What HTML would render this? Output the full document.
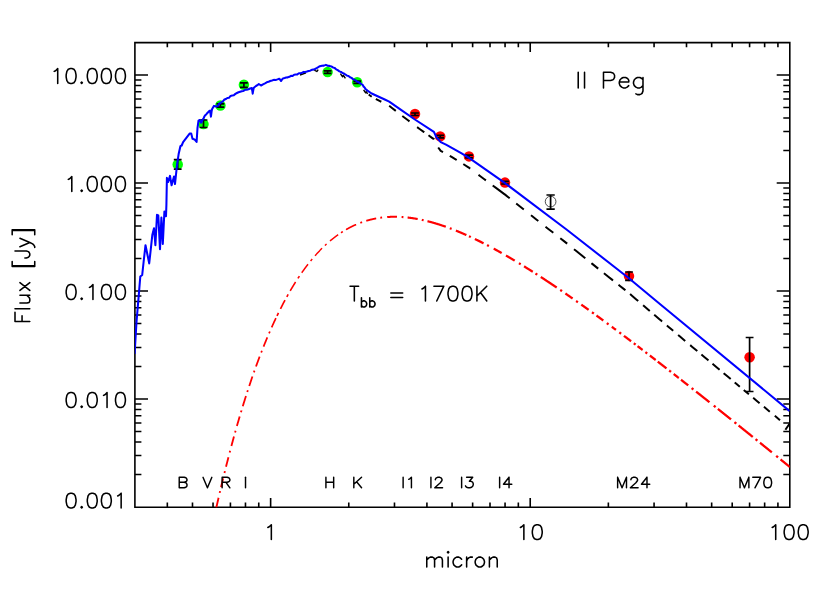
<!DOCTYPE html>
<html><head><meta charset="utf-8"><title>II Peg SED</title>
<style>html,body{margin:0;padding:0;background:#fff;font-family:"Liberation Sans",sans-serif}svg{display:block}</style>
</head><body>
<svg width="830" height="593" viewBox="0 0 830 593">
<rect width="830" height="593" fill="#fff"/>
<clipPath id="c"><rect x="134.90" y="42.60" width="654.90" height="464.60"/></clipPath>
<path d="M134.90 42.60 H789.80 V507.20 H134.90 Z M167.33 507.20 v-4.60 M167.33 42.60 v4.60 M192.49 507.20 v-4.60 M192.49 42.60 v4.60 M213.04 507.20 v-4.60 M213.04 42.60 v4.60 M230.42 507.20 v-4.60 M230.42 42.60 v4.60 M245.47 507.20 v-4.60 M245.47 42.60 v4.60 M258.75 507.20 v-4.60 M258.75 42.60 v4.60 M270.63 507.20 v-9.30 M270.63 42.60 v9.30 M348.77 507.20 v-4.60 M348.77 42.60 v4.60 M394.48 507.20 v-4.60 M394.48 42.60 v4.60 M426.92 507.20 v-4.60 M426.92 42.60 v4.60 M452.07 507.20 v-4.60 M452.07 42.60 v4.60 M472.63 507.20 v-4.60 M472.63 42.60 v4.60 M490.01 507.20 v-4.60 M490.01 42.60 v4.60 M505.06 507.20 v-4.60 M505.06 42.60 v4.60 M518.34 507.20 v-4.60 M518.34 42.60 v4.60 M530.22 507.20 v-9.30 M530.22 42.60 v9.30 M608.36 507.20 v-4.60 M608.36 42.60 v4.60 M654.07 507.20 v-4.60 M654.07 42.60 v4.60 M686.50 507.20 v-4.60 M686.50 42.60 v4.60 M711.66 507.20 v-4.60 M711.66 42.60 v4.60 M732.21 507.20 v-4.60 M732.21 42.60 v4.60 M749.59 507.20 v-4.60 M749.59 42.60 v4.60 M764.64 507.20 v-4.60 M764.64 42.60 v4.60 M777.92 507.20 v-4.60 M777.92 42.60 v4.60 M134.90 474.49 h6.50 M789.80 474.49 h-6.50 M134.90 455.47 h6.50 M789.80 455.47 h-6.50 M134.90 441.98 h6.50 M789.80 441.98 h-6.50 M134.90 431.51 h6.50 M789.80 431.51 h-6.50 M134.90 422.96 h6.50 M789.80 422.96 h-6.50 M134.90 415.73 h6.50 M789.80 415.73 h-6.50 M134.90 409.47 h6.50 M789.80 409.47 h-6.50 M134.90 403.94 h6.50 M789.80 403.94 h-6.50 M134.90 399.00 h13.10 M789.80 399.00 h-13.10 M134.90 366.49 h6.50 M789.80 366.49 h-6.50 M134.90 347.47 h6.50 M789.80 347.47 h-6.50 M134.90 333.98 h6.50 M789.80 333.98 h-6.50 M134.90 323.51 h6.50 M789.80 323.51 h-6.50 M134.90 314.96 h6.50 M789.80 314.96 h-6.50 M134.90 307.73 h6.50 M789.80 307.73 h-6.50 M134.90 301.47 h6.50 M789.80 301.47 h-6.50 M134.90 295.94 h6.50 M789.80 295.94 h-6.50 M134.90 291.00 h13.10 M789.80 291.00 h-13.10 M134.90 258.49 h6.50 M789.80 258.49 h-6.50 M134.90 239.47 h6.50 M789.80 239.47 h-6.50 M134.90 225.98 h6.50 M789.80 225.98 h-6.50 M134.90 215.51 h6.50 M789.80 215.51 h-6.50 M134.90 206.96 h6.50 M789.80 206.96 h-6.50 M134.90 199.73 h6.50 M789.80 199.73 h-6.50 M134.90 193.47 h6.50 M789.80 193.47 h-6.50 M134.90 187.94 h6.50 M789.80 187.94 h-6.50 M134.90 183.00 h13.10 M789.80 183.00 h-13.10 M134.90 150.49 h6.50 M789.80 150.49 h-6.50 M134.90 131.47 h6.50 M789.80 131.47 h-6.50 M134.90 117.98 h6.50 M789.80 117.98 h-6.50 M134.90 107.51 h6.50 M789.80 107.51 h-6.50 M134.90 98.96 h6.50 M789.80 98.96 h-6.50 M134.90 91.73 h6.50 M789.80 91.73 h-6.50 M134.90 85.47 h6.50 M789.80 85.47 h-6.50 M134.90 79.94 h6.50 M789.80 79.94 h-6.50 M134.90 75.00 h13.10 M789.80 75.00 h-13.10" fill="none" stroke="#000" stroke-width="1.60" stroke-linecap="butt" stroke-linejoin="miter"/>
<circle cx="177.70" cy="164.40" r="5.25" fill="#00ff00"/>
<circle cx="203.50" cy="124.10" r="5.25" fill="#00ff00"/>
<circle cx="220.40" cy="105.50" r="5.25" fill="#00ff00"/>
<circle cx="243.90" cy="84.80" r="5.25" fill="#00ff00"/>
<circle cx="327.60" cy="72.10" r="5.25" fill="#00ff00"/>
<circle cx="357.20" cy="82.30" r="5.25" fill="#00ff00"/>
<circle cx="415.00" cy="114.00" r="5.25" fill="#ff0000"/>
<circle cx="440.20" cy="136.40" r="5.25" fill="#ff0000"/>
<circle cx="469.00" cy="156.40" r="5.25" fill="#ff0000"/>
<circle cx="505.00" cy="182.60" r="5.25" fill="#ff0000"/>
<circle cx="629.00" cy="276.10" r="5.25" fill="#ff0000"/>
<circle cx="749.60" cy="357.20" r="5.25" fill="#ff0000"/>
<circle cx="550.60" cy="201.60" r="5.35" fill="none" stroke="#222" stroke-width="0.8"/>
<path d="M177.70 159.70 V169.10 M173.80 159.70 h7.80 M173.80 169.10 h7.80" fill="none" stroke="#000" stroke-width="1.70"/>
<path d="M203.50 120.00 V127.50 M199.60 120.00 h7.80 M199.60 127.50 h7.80" fill="none" stroke="#000" stroke-width="1.70"/>
<path d="M220.40 103.90 V107.20 M216.50 103.90 h7.80 M216.50 107.20 h7.80" fill="none" stroke="#000" stroke-width="1.70"/>
<path d="M243.90 82.90 V87.30 M240.00 82.90 h7.80 M240.00 87.30 h7.80" fill="none" stroke="#000" stroke-width="1.70"/>
<path d="M327.60 70.90 V73.40 M323.70 70.90 h7.80 M323.70 73.40 h7.80" fill="none" stroke="#000" stroke-width="1.70"/>
<path d="M357.20 81.20 V83.45 M353.30 81.20 h7.80 M353.30 83.45 h7.80" fill="none" stroke="#000" stroke-width="1.70"/>
<path d="M415.00 113.00 V115.50 M411.10 113.00 h7.80 M411.10 115.50 h7.80" fill="none" stroke="#000" stroke-width="1.70"/>
<path d="M440.20 135.40 V137.90 M436.30 135.40 h7.80 M436.30 137.90 h7.80" fill="none" stroke="#000" stroke-width="1.70"/>
<path d="M469.00 155.20 V157.80 M465.10 155.20 h7.80 M465.10 157.80 h7.80" fill="none" stroke="#000" stroke-width="1.70"/>
<path d="M505.00 181.30 V184.00 M501.10 181.30 h7.80 M501.10 184.00 h7.80" fill="none" stroke="#000" stroke-width="1.70"/>
<path d="M629.00 272.00 V280.30 M625.10 272.00 h7.80 M625.10 280.30 h7.80" fill="none" stroke="#000" stroke-width="1.70"/>
<path d="M749.60 337.50 V391.50 M745.70 337.50 h7.80 M745.70 391.50 h7.80" fill="none" stroke="#000" stroke-width="1.70"/>
<path d="M550.60 195.00 V209.20 M546.45 195.00 h8.30 M546.45 209.20 h8.30" fill="none" stroke="#000" stroke-width="1.70"/>
<g clip-path="url(#c)">
<path d="M368.70 94.55 L371.70 96.82 M375.90 98.98 L376.00 99.03 L377.10 99.60 L380.00 101.09 L381.30 101.75 M389.20 105.79 L392.00 107.96 L395.80 110.90 M402.30 115.92 L404.00 117.22 L408.00 120.28 L409.50 121.42 M417.10 127.13 L420.00 129.22 L424.00 132.09 L424.30 132.30 M428.50 135.31 L432.00 137.82 L433.90 139.17 L434.00 139.42 M438.20 147.51 L440.00 149.93 L440.70 150.88 L443.00 152.03 M449.80 155.83 L452.00 157.17 L456.00 159.58 L456.70 160.00 M463.30 164.04 L464.00 164.49 L468.00 167.04 L469.00 167.68 L470.20 168.59 M478.50 174.85 L480.00 175.98 L484.00 178.97 L485.90 180.39 M492.70 185.46 L496.00 187.91 L500.00 190.87 L504.00 193.83 L505.10 194.63 L508.00 196.96 L509.70 198.33 M516.20 203.53 L520.00 206.56 L523.80 209.58 M531.00 215.29 L532.00 216.08 L536.00 219.24 L538.30 221.05 M545.50 226.71 L548.00 228.67 L552.00 231.80 L553.30 232.82 M560.30 238.27 L564.00 241.15 L566.50 243.09 L567.20 243.65 M574.00 249.16 L576.00 250.77 L580.00 254.00 L584.00 257.22 L585.30 258.27 M591.40 263.17 L592.00 263.65 L596.00 266.85 L598.20 268.61 M603.90 273.17 L604.00 273.25 L608.00 276.44 L612.00 279.62 L613.00 280.42 M618.50 284.79 L620.00 285.98 L624.00 289.15 L625.40 290.26 M630.10 294.08 L632.00 295.71 L636.00 299.14 L638.20 301.03 M643.10 305.22 L644.00 306.00 L648.00 309.42 L649.80 310.96 M654.20 314.72 L656.00 316.25 L660.00 319.67 L660.50 320.09 L662.10 321.45 M666.90 325.50 L668.00 326.43 L672.00 329.81 L673.20 330.82 M678.10 334.95 L680.00 336.55 L684.00 339.92 L685.20 340.93 M690.20 345.14 L692.00 346.65 L696.00 350.01 L697.30 351.10 M701.40 354.54 L704.00 356.72 L708.00 360.08 L708.40 360.41 M712.50 363.85 L716.00 366.78 L719.60 369.79 M723.60 373.14 L724.00 373.48 L728.00 376.82 L730.70 379.08 M734.70 382.42 L736.00 383.50 L739.80 386.68 M743.80 390.01 L744.00 390.18 L748.00 393.52 L748.90 394.27 M753.20 397.85 L756.00 400.18 L759.60 403.18 M763.90 406.76 L764.00 406.84 L768.00 410.17 L769.80 411.67 M774.80 415.83 L776.00 416.83 L780.00 420.15 M785.4 429.8 L789.7 423.5" fill="none" stroke="#000" stroke-width="2.0" stroke-linejoin="round"/>
<path d="M300 75.0 L306 72.9 M314.3 70.2 L316.8 71.5 L318.2 69.6 M340.4 73.6 L342.6 76.8 L343.3 75.2 L345.4 78.4 M363.6 89.8 L365.6 92.8 L366.4 91.8 L367.6 93.8" fill="none" stroke="#000" stroke-width="1.4" stroke-linejoin="round"/>
<path d="M134.60 354.00 L136.50 322.00 L139.10 291.20 L140.30 276.50 L142.20 275.00 L143.60 262.00 L145.50 245.20 L147.30 254.00 L149.20 263.40 L150.80 249.00 L152.30 235.10 L154.00 228.30 L155.40 245.20 L157.00 214.80 L158.30 215.50 L160.00 249.30 L161.40 217.50 L162.80 243.90 L164.40 211.50 L165.40 216.20 L166.00 216.20 L166.40 205.00 L166.90 177.90 L168.20 182.00 L170.00 175.90 L171.60 185.30 L174.00 176.60 L175.00 184.00 L177.00 165.10 L178.60 154.30 L180.40 146.20 L181.70 145.50 L183.10 142.10 L189.80 133.40 L191.20 133.40 L192.50 138.80 L194.50 139.40 L196.60 141.90 L197.50 128.00 L198.50 120.70 L199.80 120.00 L201.20 122.70 L202.00 121.03 L202.80 119.36 L203.60 118.43 L204.40 116.31 L205.20 115.30 L206.40 114.16 L207.60 112.80 L208.80 111.29 L210.00 110.60 L210.30 112.64 L210.60 114.16 L210.90 116.70 L211.18 114.78 L211.45 112.53 L211.72 110.70 L212.00 109.30 L213.00 107.52 L214.00 105.90 L216.70 106.50 L217.93 105.74 L219.17 103.85 L220.40 102.85 L221.63 102.17 L222.87 101.41 L224.10 99.80 L225.72 99.04 L227.34 98.01 L228.96 97.80 L230.58 95.94 L232.20 95.60 L233.78 95.26 L235.37 93.90 L236.95 93.01 L238.53 92.25 L240.12 91.72 L241.70 91.20 L243.38 91.03 L245.07 89.82 L246.75 89.74 L248.43 89.29 L250.12 88.48 L251.80 88.10 L252.10 90.02 L252.40 91.35 L252.70 93.70 L253.07 91.22 L253.43 89.38 L253.80 87.70 L256.00 86.00 L257.40 85.20 L258.80 84.00 L261.00 85.50 L263.00 84.32 L265.00 83.30 L266.73 82.33 L268.47 81.86 L270.20 81.00 L272.02 80.49 L273.84 79.86 L275.66 79.94 L277.48 79.38 L279.30 78.70 L281.10 81.00 L282.05 79.42 L283.00 78.40 L284.59 78.01 L286.18 77.48 L287.77 77.39 L289.36 76.76 L290.95 75.80 L292.55 76.09 L294.14 74.67 L295.73 74.53 L297.32 74.43 L298.91 73.29 L300.50 73.20 L302.11 72.72 L303.72 71.90 L305.33 71.93 L306.94 71.54 L308.56 70.93 L310.17 70.70 L311.78 69.78 L313.39 69.62 L315.00 69.00 L316.63 68.14 L318.27 67.20 L319.90 66.20 L321.90 65.73 L323.90 65.61 L325.90 64.90 L327.70 65.76 L329.50 65.88 L331.30 66.40 L332.92 67.45 L334.53 67.88 L336.15 69.31 L337.77 70.18 L339.38 71.38 L341.00 71.90 L342.50 73.06 L344.00 73.53 L345.50 74.51 L347.00 75.63 L348.50 76.02 L350.00 77.27 L351.50 77.93 L353.00 79.10 L354.39 79.62 L355.77 80.40 L357.16 81.80 L358.54 82.12 L359.93 83.04 L361.31 83.98 L362.70 84.90 L363.67 86.63 L364.63 87.43 L365.60 89.20 L367.50 90.60 L368.90 91.53 L370.30 92.57 L371.70 93.50 L377.10 96.00 L385.30 99.80 L389.20 101.60 L400.30 109.40 L414.90 119.50 L433.90 131.90 L436.20 136.80 L440.70 142.10 L446.00 144.60 L461.20 153.20 L469.00 157.90 L505.10 183.20 L566.50 229.50 L628.60 278.00 L660.50 304.50 L789.40 410.90" fill="none" stroke="#0000ff" stroke-width="2.05" stroke-linejoin="round"/>
<path d="M215.91 509.00 L216.25 507.94 L216.50 506.82 L216.75 505.71 L217.00 504.61 L217.25 503.51 L217.50 502.41 L217.75 501.31 L218.00 500.21 L218.25 499.12 L218.50 498.04 L218.55 497.80" fill="none" stroke="#ff0000" stroke-width="1.87" stroke-linejoin="round"/>
<path d="M219.69 492.90 L219.75 492.65 L220.00 491.58 L220.11 491.10" fill="none" stroke="#ff0000" stroke-width="1.87" stroke-linejoin="round"/>
<path d="M221.06 487.10 L221.25 486.28 L221.50 485.23 L221.75 484.18 L222.00 483.14 L222.25 482.10 L222.50 481.06 L222.75 480.02 L223.00 478.99 L223.14 478.40" fill="none" stroke="#ff0000" stroke-width="1.87" stroke-linejoin="round"/>
<path d="M224.49 472.90 L224.50 472.86 L224.75 471.84 L224.93 471.10" fill="none" stroke="#ff0000" stroke-width="1.86" stroke-linejoin="round"/>
<path d="M226.03 466.70 L226.25 465.83 L226.50 464.84 L226.75 463.85 L227.00 462.87 L227.25 461.88 L227.50 460.90 L227.75 459.93 L228.00 458.95 L228.25 457.98 L228.45 457.20" fill="none" stroke="#ff0000" stroke-width="1.85" stroke-linejoin="round"/>
<path d="M229.65 452.60 L229.75 452.21 L230.00 451.26 L230.12 450.80" fill="none" stroke="#ff0000" stroke-width="1.85" stroke-linejoin="round"/>
<path d="M231.40 446.00 L231.50 445.61 L231.75 444.68 L232.00 443.75 L232.25 442.82 L232.50 441.90 L232.75 440.98 L233.00 440.06 L233.25 439.14 L233.50 438.23 L233.75 437.32 L233.95 436.60" fill="none" stroke="#ff0000" stroke-width="1.84" stroke-linejoin="round"/>
<path d="M235.09 432.50 L235.25 431.91 L235.50 431.02 L235.59 430.70" fill="none" stroke="#ff0000" stroke-width="1.84" stroke-linejoin="round"/>
<path d="M236.95 425.90 L237.00 425.73 L237.25 424.86 L237.50 423.99 L237.75 423.12 L238.00 422.25 L238.25 421.39 L238.50 420.53 L238.75 419.67 L239.00 418.82 L239.25 417.97 L239.50 417.12 L239.68 416.50" fill="none" stroke="#ff0000" stroke-width="1.83" stroke-linejoin="round"/>
<path d="M240.96 412.20 L241.00 412.07 L241.25 411.24 L241.50 410.41 L241.50 410.40" fill="none" stroke="#ff0000" stroke-width="1.82" stroke-linejoin="round"/>
<path d="M242.75 406.30 L243.00 405.49 L243.25 404.68 L243.50 403.87 L243.75 403.06 L244.00 402.26 L244.25 401.46 L244.50 400.66 L244.75 399.86 L245.00 399.07 L245.25 398.28 L245.50 397.49 L245.75 396.70 L245.94 396.10" fill="none" stroke="#ff0000" stroke-width="1.81" stroke-linejoin="round"/>
<path d="M247.26 392.00 L247.50 391.26 L247.75 390.49 L247.85 390.20" fill="none" stroke="#ff0000" stroke-width="1.80" stroke-linejoin="round"/>
<path d="M249.20 386.10 L249.25 385.94 L249.50 385.19 L249.75 384.44 L250.00 383.69 L250.25 382.95 L250.50 382.21 L250.75 381.47 L251.00 380.73 L251.25 379.99 L251.50 379.26 L251.75 378.53 L252.00 377.80 L252.25 377.08 L252.45 376.50" fill="none" stroke="#ff0000" stroke-width="1.79" stroke-linejoin="round"/>
<path d="M253.88 372.40 L254.00 372.07 L254.25 371.36 L254.50 370.65 L254.52 370.60" fill="none" stroke="#ff0000" stroke-width="1.78" stroke-linejoin="round"/>
<path d="M255.99 366.50 L256.00 366.47 L256.25 365.78 L256.50 365.10 L256.75 364.41 L257.00 363.73 L257.25 363.05 L257.50 362.37 L257.75 361.69 L258.00 361.02 L258.25 360.35 L258.50 359.68 L258.75 359.01 L259.00 358.35 L259.25 357.68 L259.50 357.02 L259.66 356.60" fill="none" stroke="#ff0000" stroke-width="1.77" stroke-linejoin="round"/>
<path d="M261.23 352.50 L261.25 352.46 L261.50 351.81 L261.75 351.17 L261.93 350.70" fill="none" stroke="#ff0000" stroke-width="1.75" stroke-linejoin="round"/>
<path d="M263.56 346.60 L263.75 346.12 L264.00 345.49 L264.25 344.87 L264.50 344.25 L264.75 343.64 L265.00 343.02 L265.25 342.41 L265.50 341.80 L265.75 341.19 L266.00 340.58 L266.25 339.98 L266.50 339.38 L266.75 338.78 L267.00 338.18 L267.25 337.58 L267.33 337.40" fill="none" stroke="#ff0000" stroke-width="1.74" stroke-linejoin="round"/>
<path d="M269.07 333.30 L269.25 332.89 L269.50 332.31 L269.75 331.73 L269.85 331.50" fill="none" stroke="#ff0000" stroke-width="1.72" stroke-linejoin="round"/>
<path d="M271.66 327.40 L271.75 327.19 L272.00 326.63 L272.25 326.08 L272.50 325.52 L272.75 324.97 L273.00 324.42 L273.25 323.87 L273.50 323.32 L273.75 322.77 L274.00 322.23 L274.25 321.69 L274.50 321.15 L274.75 320.61 L275.00 320.08 L275.25 319.54 L275.50 319.01 L275.75 318.48 L275.93 318.10" fill="none" stroke="#ff0000" stroke-width="1.70" stroke-linejoin="round"/>
<path d="M277.00 315.85 L277.25 315.34 L277.50 314.82 L277.75 314.30 L278.00 313.79 L278.25 313.28 L278.40 312.97" fill="none" stroke="#ff0000" stroke-width="1.68" stroke-linejoin="round"/>
<path d="M280.40 308.95 L280.50 308.75 L280.75 308.26 L281.00 307.76 L281.25 307.27 L281.50 306.79 L281.75 306.30 L282.00 305.81 L282.25 305.33 L282.50 304.85 L282.75 304.37 L283.00 303.89 L283.25 303.41 L283.50 302.94 L283.75 302.47 L284.00 302.00 L284.25 301.53 L284.50 301.06 L284.75 300.59 L285.00 300.13" fill="none" stroke="#ff0000" stroke-width="1.66" stroke-linejoin="round"/>
<path d="M286.80 296.84 L287.00 296.48 L287.25 296.03 L287.50 295.58 L287.75 295.13 L288.00 294.69 L288.20 294.34" fill="none" stroke="#ff0000" stroke-width="1.63" stroke-linejoin="round"/>
<path d="M290.20 290.86 L290.25 290.77 L290.50 290.34 L290.75 289.92 L291.00 289.49 L291.25 289.07 L291.50 288.65 L291.75 288.23 L292.00 287.81 L292.25 287.40 L292.50 286.98 L292.75 286.57 L293.00 286.16 L293.25 285.75 L293.50 285.34 L293.75 284.93 L294.00 284.53 L294.25 284.12 L294.50 283.72 L294.75 283.32 L295.00 282.92 L295.25 282.53 L295.50 282.13 L295.60 281.97" fill="none" stroke="#ff0000" stroke-width="1.60" stroke-linejoin="round"/>
<path d="M297.90 278.41 L298.00 278.26 L298.25 277.88 L298.50 277.50 L298.75 277.13 L299.00 276.75 L299.25 276.38 L299.40 276.16" fill="none" stroke="#ff0000" stroke-width="1.56" stroke-linejoin="round"/>
<path d="M301.70 272.81 L301.75 272.74 L302.00 272.38 L302.25 272.03 L302.50 271.67 L302.75 271.32 L303.00 270.97 L303.25 270.62 L303.50 270.27 L303.75 269.93 L304.00 269.58 L304.25 269.24 L304.50 268.90 L304.75 268.56 L305.00 268.22 L305.25 267.88 L305.50 267.55 L305.75 267.21 L306.00 266.88 L306.25 266.55 L306.50 266.21 L306.75 265.89 L307.00 265.56 L307.25 265.23 L307.50 264.91 L307.75 264.58 L308.00 264.26" fill="none" stroke="#ff0000" stroke-width="1.52" stroke-linejoin="round"/>
<path d="M310.60 260.99 L310.75 260.81 L311.00 260.50 L311.25 260.20 L311.50 259.90 L311.75 259.60 L312.00 259.30 L312.20 259.06" fill="none" stroke="#ff0000" stroke-width="1.47" stroke-linejoin="round"/>
<path d="M315.00 255.79 L315.25 255.51 L315.50 255.23 L315.75 254.95 L316.00 254.67 L316.25 254.39 L316.50 254.12 L316.75 253.84 L317.00 253.57 L317.25 253.29 L317.50 253.02 L317.75 252.75 L318.00 252.48 L318.25 252.21 L318.50 251.95 L318.75 251.68 L319.00 251.42 L319.25 251.15 L319.50 250.89 L319.75 250.63 L320.00 250.37 L320.25 250.12 L320.50 249.86 L320.75 249.60 L321.00 249.35 L321.25 249.10 L321.50 248.84 L321.75 248.59 L322.00 248.34 L322.10 248.25" fill="none" stroke="#ff0000" stroke-width="1.41" stroke-linejoin="round"/>
<path d="M324.90 245.54 L325.00 245.45 L325.25 245.21 L325.50 244.98 L325.75 244.75 L326.00 244.52 L326.25 244.29 L326.50 244.06 L326.60 243.97" fill="none" stroke="#ff0000" stroke-width="1.42" stroke-linejoin="round"/>
<path d="M330.00 240.99 L330.25 240.78 L330.50 240.57 L330.75 240.36 L331.00 240.15 L331.25 239.95 L331.50 239.74 L331.75 239.54 L332.00 239.34 L332.25 239.13 L332.50 238.93 L332.75 238.73 L333.00 238.53 L333.25 238.34 L333.50 238.14 L333.75 237.94 L334.00 237.75 L334.25 237.56 L334.50 237.36 L334.75 237.17 L335.00 236.98 L335.25 236.79 L335.50 236.61 L335.75 236.42 L336.00 236.23 L336.25 236.05 L336.50 235.87 L336.75 235.68 L337.00 235.50 L337.25 235.32 L337.50 235.14 L337.75 234.96 L338.00 234.79 L338.10 234.71" fill="none" stroke="#ff0000" stroke-width="1.50" stroke-linejoin="round"/>
<path d="M341.00 232.74 L341.25 232.57 L341.50 232.41 L341.75 232.25 L342.00 232.09 L342.25 231.93 L342.50 231.77 L342.75 231.61 L342.80 231.58" fill="none" stroke="#ff0000" stroke-width="1.58" stroke-linejoin="round"/>
<path d="M346.00 229.64 L346.25 229.50 L346.50 229.35 L346.75 229.21 L347.00 229.07 L347.25 228.93 L347.50 228.79 L347.75 228.65 L348.00 228.51 L348.25 228.37 L348.50 228.24 L348.75 228.10 L349.00 227.97 L349.25 227.83 L349.50 227.70 L349.75 227.57 L350.00 227.44 L350.25 227.31 L350.50 227.18 L350.75 227.05 L351.00 226.93 L351.25 226.80 L351.50 226.68 L351.75 226.55 L352.00 226.43 L352.25 226.31 L352.50 226.19 L352.75 226.06 L353.00 225.95 L353.25 225.83 L353.50 225.71 L353.75 225.59 L354.00 225.48 L354.25 225.36 L354.50 225.25 L354.75 225.13 L355.00 225.02 L355.25 224.91 L355.50 224.80 L355.75 224.69 L356.00 224.58 L356.10 224.53" fill="none" stroke="#ff0000" stroke-width="1.67" stroke-linejoin="round"/>
<path d="M360.30 222.83 L360.50 222.76 L360.75 222.66 L361.00 222.57 L361.25 222.48 L361.50 222.39 L361.75 222.30 L362.00 222.21 L362.10 222.18" fill="none" stroke="#ff0000" stroke-width="1.77" stroke-linejoin="round"/>
<path d="M366.30 220.80 L366.50 220.74 L366.75 220.67 L367.00 220.60 L367.25 220.52 L367.50 220.45 L367.75 220.38 L368.00 220.31 L368.25 220.24 L368.50 220.17 L368.75 220.10 L369.00 220.04 L369.25 219.97 L369.50 219.91 L369.75 219.84 L370.00 219.78 L370.25 219.71 L370.50 219.65 L370.75 219.59 L371.00 219.53 L371.25 219.47 L371.50 219.41 L371.75 219.35 L372.00 219.29 L372.25 219.23 L372.50 219.17 L372.75 219.12 L373.00 219.06 L373.25 219.01 L373.50 218.95 L373.75 218.90 L374.00 218.85 L374.25 218.80 L374.50 218.74 L374.75 218.69 L375.00 218.64 L375.25 218.60 L375.50 218.55 L375.75 218.50 L376.00 218.45 L376.20 218.42" fill="none" stroke="#ff0000" stroke-width="1.87" stroke-linejoin="round"/>
<path d="M380.30 217.75 L380.50 217.72 L380.75 217.69 L381.00 217.66 L381.25 217.62 L381.50 217.59 L381.75 217.56 L382.00 217.53 L382.10 217.52" fill="none" stroke="#ff0000" stroke-width="1.95" stroke-linejoin="round"/>
<path d="M387.20 217.04 L387.25 217.03 L387.50 217.02 L387.75 217.00 L388.00 216.98 L388.25 216.97 L388.50 216.96 L388.75 216.94 L389.00 216.93 L389.25 216.92 L389.50 216.90 L389.75 216.89 L390.00 216.88 L390.25 216.87 L390.50 216.86 L390.75 216.85 L391.00 216.85 L391.25 216.84 L391.50 216.83 L391.75 216.82 L392.00 216.82 L392.25 216.81 L392.50 216.81 L392.75 216.80 L393.00 216.80 L393.25 216.80 L393.50 216.79 L393.75 216.79 L394.00 216.79 L394.25 216.79 L394.50 216.79 L394.75 216.79 L395.00 216.79 L395.25 216.79 L395.50 216.79 L395.75 216.80 L396.00 216.80 L396.25 216.80 L396.50 216.81 L396.75 216.81 L397.00 216.82" fill="none" stroke="#ff0000" stroke-width="2.02" stroke-linejoin="round"/>
<path d="M401.60 217.01 L401.75 217.02 L402.00 217.04 L402.25 217.06 L402.50 217.07 L402.75 217.09 L403.00 217.11 L403.25 217.13 L403.40 217.14" fill="none" stroke="#ff0000" stroke-width="2.08" stroke-linejoin="round"/>
<path d="M407.60 217.54 L407.75 217.55 L408.00 217.58 L408.25 217.61 L408.50 217.64 L408.75 217.67 L409.00 217.70 L409.25 217.73 L409.50 217.76 L409.75 217.79 L410.00 217.83 L410.25 217.86 L410.50 217.89 L410.75 217.92 L411.00 217.96 L411.25 217.99 L411.50 218.03 L411.75 218.06 L412.00 218.10 L412.25 218.14 L412.50 218.17 L412.75 218.21 L413.00 218.25 L413.25 218.29 L413.50 218.32 L413.75 218.36 L414.00 218.40 L414.25 218.44 L414.50 218.48 L414.75 218.53 L415.00 218.57 L415.25 218.61 L415.50 218.65 L415.75 218.69 L416.00 218.74 L416.25 218.78 L416.50 218.83 L416.75 218.87 L417.00 218.91 L417.25 218.96 L417.50 219.01 L417.70 219.04" fill="none" stroke="#ff0000" stroke-width="2.13" stroke-linejoin="round"/>
<path d="M421.80 219.86 L422.00 219.91 L422.25 219.96 L422.50 220.01 L422.75 220.07 L423.00 220.13 L423.25 220.18 L423.50 220.24 L423.60 220.26" fill="none" stroke="#ff0000" stroke-width="2.16" stroke-linejoin="round"/>
<path d="M427.50 221.19 L427.75 221.25 L428.00 221.32 L428.25 221.38 L428.50 221.44 L428.75 221.51 L429.00 221.57 L429.25 221.64 L429.50 221.70 L429.75 221.77 L430.00 221.84 L430.25 221.90 L430.50 221.97 L430.75 222.04 L431.00 222.11 L431.25 222.17 L431.50 222.24 L431.75 222.31 L432.00 222.38 L432.25 222.45 L432.50 222.52 L432.75 222.59 L433.00 222.66 L433.25 222.73 L433.50 222.80 L433.75 222.88 L434.00 222.95 L434.25 223.02 L434.50 223.10 L434.75 223.17 L435.00 223.24 L435.25 223.32 L435.50 223.39 L435.75 223.47 L436.00 223.54 L436.25 223.62 L436.50 223.69 L436.75 223.77 L437.00 223.85 L437.25 223.92 L437.50 224.00 L437.75 224.08 L438.00 224.16 L438.25 224.23 L438.50 224.31 L438.75 224.39 L439.00 224.47 L439.25 224.55 L439.50 224.63 L439.75 224.71 L440.00 224.79 L440.25 224.87 L440.50 224.95 L440.75 225.04 L441.00 225.12 L441.25 225.20 L441.50 225.28 L441.75 225.37 L442.00 225.45 L442.25 225.53 L442.50 225.62 L442.75 225.70 L443.00 225.79 L443.25 225.87 L443.50 225.96 L443.75 226.04 L444.00 226.13 L444.25 226.22 L444.50 226.30 L444.75 226.39 L445.00 226.48 L445.25 226.57 L445.50 226.65 L445.75 226.74 L445.80 226.76" fill="none" stroke="#ff0000" stroke-width="2.20" stroke-linejoin="round"/>
<path d="M449.80 228.22 L450.00 228.29 L450.25 228.39 L450.50 228.48 L450.75 228.57 L451.00 228.67 L451.25 228.76 L451.50 228.86 L451.60 228.90" fill="none" stroke="#ff0000" stroke-width="2.23" stroke-linejoin="round"/>
<path d="M455.90 230.59 L456.00 230.63 L456.25 230.73 L456.50 230.83 L456.75 230.93 L457.00 231.03 L457.25 231.14 L457.50 231.24 L457.75 231.34 L458.00 231.44 L458.25 231.55 L458.50 231.65 L458.75 231.75 L459.00 231.86 L459.25 231.96 L459.50 232.07 L459.75 232.17 L460.00 232.28 L460.25 232.38 L460.50 232.49 L460.75 232.59 L461.00 232.70 L461.25 232.81 L461.50 232.91 L461.75 233.02 L462.00 233.13 L462.25 233.23 L462.50 233.34 L462.75 233.45 L463.00 233.56 L463.25 233.67 L463.50 233.78 L463.75 233.89 L464.00 233.99 L464.25 234.10 L464.50 234.21 L464.75 234.32 L465.00 234.43 L465.25 234.55 L465.50 234.66 L465.75 234.77 L466.00 234.88 L466.25 234.99 L466.40 235.06" fill="none" stroke="#ff0000" stroke-width="2.24" stroke-linejoin="round"/>
<path d="M469.00 236.24 L469.25 236.35 L469.50 236.46 L469.75 236.58 L470.00 236.69 L470.25 236.81 L470.50 236.93 L470.75 237.04 L470.80 237.07" fill="none" stroke="#ff0000" stroke-width="2.25" stroke-linejoin="round"/>
<path d="M474.90 239.00 L475.00 239.05 L475.25 239.17 L475.50 239.29 L475.75 239.41 L476.00 239.53 L476.25 239.66 L476.50 239.78 L476.75 239.90 L477.00 240.02 L477.25 240.14 L477.50 240.26 L477.75 240.39 L478.00 240.51 L478.25 240.63 L478.50 240.76 L478.75 240.88 L479.00 241.00 L479.25 241.13 L479.50 241.25 L479.75 241.38 L480.00 241.50 L480.25 241.62 L480.50 241.75 L480.75 241.87 L481.00 242.00 L481.25 242.13 L481.50 242.25 L481.75 242.38 L482.00 242.50 L482.25 242.63 L482.50 242.76 L482.75 242.88 L483.00 243.01 L483.25 243.14 L483.50 243.27 L483.60 243.32" fill="none" stroke="#ff0000" stroke-width="2.26" stroke-linejoin="round"/>
<path d="M487.10 245.12 L487.25 245.20 L487.50 245.33 L487.75 245.46 L488.00 245.59 L488.25 245.73 L488.50 245.86 L488.75 245.99 L488.90 246.07" fill="none" stroke="#ff0000" stroke-width="2.27" stroke-linejoin="round"/>
<path d="M493.70 248.64 L493.75 248.66 L494.00 248.80 L494.25 248.93 L494.50 249.07 L494.75 249.21 L495.00 249.34 L495.25 249.48 L495.50 249.62 L495.75 249.75 L496.00 249.89 L496.25 250.03 L496.50 250.17 L496.75 250.30 L497.00 250.44 L497.25 250.58 L497.50 250.72 L497.75 250.86 L498.00 250.99 L498.25 251.13 L498.50 251.27 L498.75 251.41 L499.00 251.55 L499.25 251.69 L499.50 251.83 L499.75 251.97 L500.00 252.11 L500.25 252.25 L500.50 252.39 L500.75 252.53 L501.00 252.67 L501.25 252.81 L501.50 252.95 L501.70 253.07" fill="none" stroke="#ff0000" stroke-width="2.27" stroke-linejoin="round"/>
<path d="M506.00 255.52 L506.25 255.66 L506.50 255.81 L506.75 255.95 L507.00 256.10 L507.25 256.24 L507.50 256.39 L507.75 256.53 L508.00 256.68 L508.25 256.82 L508.50 256.97 L508.75 257.12 L509.00 257.26 L509.25 257.41 L509.50 257.55 L509.75 257.70 L510.00 257.85 L510.25 257.99 L510.50 258.14 L510.75 258.29 L511.00 258.43 L511.25 258.58 L511.50 258.73 L511.75 258.88 L512.00 259.02 L512.25 259.17 L512.50 259.32 L512.75 259.47 L513.00 259.62 L513.25 259.77 L513.50 259.91 L513.75 260.06 L514.00 260.21 L514.25 260.36 L514.50 260.51 L514.70 260.63" fill="none" stroke="#ff0000" stroke-width="2.28" stroke-linejoin="round"/>
<path d="M518.90 263.16 L519.00 263.22 L519.25 263.37 L519.50 263.53 L519.75 263.68 L520.00 263.83 L520.25 263.98 L520.50 264.14 L520.70 264.26" fill="none" stroke="#ff0000" stroke-width="2.28" stroke-linejoin="round"/>
<path d="M524.10 266.35 L524.25 266.44 L524.50 266.60 L524.75 266.75 L525.00 266.91 L525.25 267.06 L525.50 267.22 L525.75 267.37 L526.00 267.53 L526.25 267.69 L526.50 267.84 L526.75 268.00 L527.00 268.15 L527.25 268.31 L527.50 268.47 L527.75 268.62 L528.00 268.78 L528.25 268.94 L528.50 269.09 L528.75 269.25 L529.00 269.41 L529.25 269.57 L529.50 269.72 L529.75 269.88 L530.00 270.04 L530.25 270.20 L530.50 270.35 L530.75 270.51 L531.00 270.67 L531.25 270.83 L531.50 270.99 L531.75 271.15 L532.00 271.30 L532.25 271.46 L532.50 271.62 L532.75 271.78 L532.80 271.81" fill="none" stroke="#ff0000" stroke-width="2.29" stroke-linejoin="round"/>
<path d="M535.50 273.54 L535.75 273.70 L536.00 273.86 L536.25 274.02 L536.50 274.18 L536.75 274.34 L537.00 274.50 L537.25 274.66 L537.30 274.70" fill="none" stroke="#ff0000" stroke-width="2.29" stroke-linejoin="round"/>
<path d="M540.80 276.97 L541.00 277.10 L541.25 277.26 L541.50 277.42 L541.75 277.59 L542.00 277.75 L542.25 277.91 L542.50 278.08 L542.75 278.24 L543.00 278.40 L543.25 278.57 L543.50 278.73 L543.75 278.90 L544.00 279.06 L544.25 279.22 L544.50 279.39 L544.75 279.55 L545.00 279.72 L545.25 279.88 L545.50 280.05 L545.75 280.21 L546.00 280.38 L546.25 280.54 L546.50 280.71 L546.75 280.87 L547.00 281.04 L547.25 281.20 L547.50 281.37 L547.75 281.54 L548.00 281.70 L548.25 281.87 L548.50 282.03 L548.75 282.20 L549.00 282.37 L549.25 282.53 L549.50 282.70 L549.75 282.87 L550.00 283.03 L550.25 283.20 L550.50 283.37 L550.75 283.53 L551.00 283.70 L551.25 283.87 L551.50 284.03 L551.75 284.20 L552.00 284.37 L552.25 284.54 L552.50 284.70 L552.75 284.87 L553.00 285.04 L553.25 285.21 L553.50 285.38 L553.75 285.54 L554.00 285.71 L554.25 285.88 L554.50 286.05 L554.75 286.22 L555.00 286.39 L555.25 286.56 L555.50 286.72 L555.75 286.89 L556.00 287.06 L556.25 287.23 L556.50 287.40 L556.70 287.54" fill="none" stroke="#ff0000" stroke-width="2.29" stroke-linejoin="round"/>
<path d="M560.20 289.92 L560.25 289.95 L560.50 290.12 L560.75 290.29 L561.00 290.46 L561.25 290.63 L561.50 290.81 L561.75 290.98 L562.00 291.15" fill="none" stroke="#ff0000" stroke-width="2.29" stroke-linejoin="round"/>
<path d="M565.40 293.49 L565.50 293.56 L565.75 293.73 L566.00 293.90 L566.25 294.07 L566.50 294.25 L566.75 294.42 L567.00 294.59 L567.25 294.76 L567.50 294.94 L567.75 295.11 L568.00 295.28 L568.25 295.46 L568.50 295.63 L568.75 295.81 L569.00 295.98 L569.25 296.15 L569.50 296.33 L569.75 296.50 L570.00 296.67 L570.25 296.85 L570.50 297.02 L570.75 297.20 L571.00 297.37 L571.25 297.55 L571.50 297.72 L571.75 297.89 L572.00 298.07 L572.25 298.24 L572.50 298.42 L572.60 298.49" fill="none" stroke="#ff0000" stroke-width="2.30" stroke-linejoin="round"/>
<path d="M576.10 300.95 L576.25 301.05 L576.50 301.23 L576.75 301.40 L577.00 301.58 L577.25 301.76 L577.50 301.93 L577.75 302.11 L577.90 302.21" fill="none" stroke="#ff0000" stroke-width="2.30" stroke-linejoin="round"/>
<path d="M581.30 304.62 L581.50 304.76 L581.75 304.94 L582.00 305.12 L582.25 305.30 L582.50 305.48 L582.75 305.65 L583.00 305.83 L583.25 306.01 L583.50 306.19 L583.75 306.37 L584.00 306.54 L584.25 306.72 L584.50 306.90 L584.75 307.08 L585.00 307.26 L585.25 307.44 L585.50 307.62 L585.75 307.79 L586.00 307.97 L586.25 308.15 L586.50 308.33 L586.75 308.51 L587.00 308.69 L587.25 308.87 L587.50 309.05 L587.75 309.23 L588.00 309.41 L588.25 309.59 L588.50 309.77 L588.60 309.84" fill="none" stroke="#ff0000" stroke-width="2.30" stroke-linejoin="round"/>
<path d="M592.00 312.29 L592.25 312.47 L592.50 312.65 L592.75 312.83 L593.00 313.01 L593.25 313.19 L593.50 313.37 L593.75 313.55 L593.80 313.59" fill="none" stroke="#ff0000" stroke-width="2.30" stroke-linejoin="round"/>
<path d="M596.50 315.55 L596.75 315.73 L597.00 315.91 L597.25 316.09 L597.50 316.27 L597.75 316.45 L598.00 316.64 L598.25 316.82 L598.50 317.00 L598.75 317.18 L599.00 317.37 L599.25 317.55 L599.50 317.73 L599.75 317.91 L600.00 318.10 L600.25 318.28 L600.50 318.46 L600.75 318.64 L601.00 318.83 L601.25 319.01 L601.50 319.19 L601.75 319.37 L602.00 319.56 L602.25 319.74 L602.50 319.92 L602.75 320.11 L603.00 320.29 L603.25 320.47 L603.30 320.51" fill="none" stroke="#ff0000" stroke-width="2.30" stroke-linejoin="round"/>
<path d="M606.80 323.08 L607.00 323.23 L607.25 323.41 L607.50 323.60 L607.75 323.78 L608.00 323.97 L608.25 324.15 L608.50 324.34 L608.60 324.41" fill="none" stroke="#ff0000" stroke-width="2.30" stroke-linejoin="round"/>
<path d="M611.80 326.78 L612.00 326.92 L612.25 327.11 L612.50 327.29 L612.75 327.48 L613.00 327.66 L613.25 327.85 L613.50 328.04 L613.75 328.22 L614.00 328.41 L614.25 328.59 L614.50 328.78 L614.75 328.96 L615.00 329.15 L615.25 329.34 L615.50 329.52 L615.75 329.71 L615.90 329.82" fill="none" stroke="#ff0000" stroke-width="2.30" stroke-linejoin="round"/>
<path d="M619.30 332.36 L619.50 332.50 L619.75 332.69 L620.00 332.88 L620.25 333.07 L620.50 333.25 L620.75 333.44 L621.00 333.63 L621.10 333.70" fill="none" stroke="#ff0000" stroke-width="2.30" stroke-linejoin="round"/>
<path d="M623.90 335.80 L624.00 335.88 L624.25 336.06 L624.50 336.25 L624.75 336.44 L625.00 336.63 L625.25 336.81 L625.50 337.00 L625.75 337.19 L626.00 337.38 L626.25 337.57 L626.50 337.75 L626.75 337.94 L627.00 338.13 L627.25 338.32 L627.50 338.51 L627.75 338.70 L628.00 338.88 L628.25 339.07 L628.50 339.26 L628.75 339.45 L629.00 339.64 L629.25 339.83 L629.50 340.02 L629.75 340.20 L630.00 340.39 L630.25 340.58 L630.50 340.77 L630.75 340.96 L631.00 341.15 L631.10 341.22" fill="none" stroke="#ff0000" stroke-width="2.30" stroke-linejoin="round"/>
<path d="M633.80 343.27 L634.00 343.42 L634.25 343.61 L634.50 343.80 L634.75 343.99 L635.00 344.18 L635.25 344.37 L635.50 344.56 L635.60 344.63" fill="none" stroke="#ff0000" stroke-width="2.30" stroke-linejoin="round"/>
<path d="M637.60 346.15 L637.75 346.27 L638.00 346.46 L638.25 346.65 L638.50 346.84 L638.75 347.03 L639.00 347.22 L639.25 347.41 L639.50 347.60 L639.75 347.79 L640.00 347.98 L640.25 348.17 L640.50 348.36 L640.75 348.55 L641.00 348.74 L641.25 348.93 L641.50 349.12 L641.75 349.32 L642.00 349.51 L642.25 349.70 L642.50 349.89 L642.60 349.96" fill="none" stroke="#ff0000" stroke-width="2.30" stroke-linejoin="round"/>
<path d="M645.40 352.11 L645.50 352.18 L645.75 352.37 L646.00 352.56 L646.25 352.76 L646.50 352.95 L646.75 353.14 L647.00 353.33 L647.20 353.48" fill="none" stroke="#ff0000" stroke-width="2.30" stroke-linejoin="round"/>
<path d="M649.90 355.56 L650.00 355.63 L650.25 355.83 L650.50 356.02 L650.75 356.21 L651.00 356.40 L651.25 356.59 L651.50 356.79 L651.75 356.98 L652.00 357.17 L652.25 357.36 L652.50 357.56 L652.75 357.75 L653.00 357.94 L653.25 358.13 L653.50 358.33 L653.75 358.52 L654.00 358.71 L654.25 358.90 L654.50 359.10 L654.75 359.29 L655.00 359.48 L655.25 359.67 L655.50 359.87 L655.70 360.02" fill="none" stroke="#ff0000" stroke-width="2.30" stroke-linejoin="round"/>
<path d="M657.80 361.64 L658.00 361.80 L658.25 361.99 L658.50 362.18 L658.75 362.38 L659.00 362.57 L659.25 362.76 L659.50 362.96 L659.75 363.15 L660.00 363.34 L660.25 363.54 L660.50 363.73 L660.75 363.93 L661.00 364.12 L661.25 364.31 L661.50 364.51 L661.75 364.70 L662.00 364.89 L662.25 365.09 L662.50 365.28 L662.75 365.48 L663.00 365.67 L663.25 365.86 L663.50 366.06 L663.75 366.25 L664.00 366.44 L664.25 366.64 L664.50 366.83 L664.75 367.03 L665.00 367.22 L665.25 367.42 L665.50 367.61 L665.75 367.80 L666.00 368.00 L666.25 368.19 L666.50 368.39" fill="none" stroke="#ff0000" stroke-width="2.30" stroke-linejoin="round"/>
<path d="M669.20 370.49 L669.25 370.53 L669.50 370.72 L669.75 370.92 L670.00 371.11 L670.25 371.31 L670.50 371.50 L670.75 371.69 L671.00 371.89" fill="none" stroke="#ff0000" stroke-width="2.30" stroke-linejoin="round"/>
<path d="M673.70 374.00 L673.75 374.04 L674.00 374.23 L674.25 374.43 L674.50 374.62 L674.75 374.82 L675.00 375.01 L675.25 375.21 L675.50 375.40 L675.75 375.60 L676.00 375.79 L676.25 375.99 L676.50 376.18 L676.75 376.38 L677.00 376.58 L677.25 376.77 L677.50 376.97 L677.75 377.16 L678.00 377.36 L678.25 377.55 L678.50 377.75 L678.75 377.95 L678.80 377.98" fill="none" stroke="#ff0000" stroke-width="2.30" stroke-linejoin="round"/>
<path d="M681.00 379.71 L681.25 379.90 L681.50 380.10 L681.75 380.30 L682.00 380.49 L682.25 380.69 L682.50 380.89 L682.75 381.08 L683.00 381.28 L683.25 381.47 L683.50 381.67 L683.75 381.87 L684.00 382.06 L684.25 382.26 L684.50 382.46 L684.75 382.65 L685.00 382.85 L685.25 383.05 L685.50 383.24 L685.75 383.44 L686.00 383.63 L686.25 383.83 L686.50 384.03 L686.75 384.22 L687.00 384.42 L687.25 384.62 L687.50 384.81 L687.75 385.01 L688.00 385.21 L688.20 385.37" fill="none" stroke="#ff0000" stroke-width="2.30" stroke-linejoin="round"/>
<path d="M691.60 388.04 L691.75 388.16 L692.00 388.36 L692.25 388.56 L692.50 388.75 L692.75 388.95 L693.00 389.15 L693.25 389.35 L693.40 389.46" fill="none" stroke="#ff0000" stroke-width="2.30" stroke-linejoin="round"/>
<path d="M696.10 391.60 L696.25 391.72 L696.50 391.91 L696.75 392.11 L697.00 392.31 L697.25 392.51 L697.50 392.70 L697.75 392.90 L698.00 393.10 L698.25 393.30 L698.50 393.50 L698.75 393.69 L699.00 393.89 L699.25 394.09 L699.50 394.29 L699.75 394.48 L700.00 394.68 L700.25 394.88 L700.50 395.08 L700.75 395.28 L701.00 395.47 L701.25 395.67 L701.50 395.87 L701.75 396.07 L702.00 396.27 L702.25 396.47 L702.50 396.66 L702.75 396.86 L703.00 397.06 L703.25 397.26 L703.50 397.46 L703.75 397.65 L704.00 397.85 L704.25 398.05 L704.50 398.25 L704.75 398.45 L705.00 398.65 L705.25 398.84 L705.50 399.04 L705.75 399.24 L706.00 399.44 L706.25 399.64 L706.50 399.84 L706.75 400.04 L707.00 400.23 L707.25 400.43 L707.50 400.63 L707.75 400.83 L708.00 401.03 L708.25 401.23 L708.50 401.43 L708.75 401.63 L709.00 401.82 L709.25 402.02 L709.50 402.22" fill="none" stroke="#ff0000" stroke-width="2.30" stroke-linejoin="round"/>
<path d="M713.80 405.64 L714.00 405.80 L714.25 406.00 L714.50 406.20 L714.75 406.40 L715.00 406.60 L715.25 406.80 L715.50 407.00 L715.60 407.08" fill="none" stroke="#ff0000" stroke-width="2.30" stroke-linejoin="round"/>
<path d="M717.90 408.91 L718.00 408.99 L718.25 409.19 L718.50 409.39 L718.75 409.59 L719.00 409.79 L719.25 409.99 L719.50 410.19 L719.75 410.39 L720.00 410.59 L720.25 410.79 L720.50 410.99 L720.75 411.19 L721.00 411.39 L721.25 411.59 L721.50 411.79 L721.75 411.99 L722.00 412.19 L722.25 412.39 L722.50 412.59 L722.75 412.79 L723.00 412.99 L723.25 413.19 L723.50 413.39 L723.75 413.59 L724.00 413.79 L724.25 413.99 L724.50 414.19 L724.75 414.39 L725.00 414.59 L725.25 414.79 L725.50 414.99 L725.75 415.19 L726.00 415.39 L726.25 415.59 L726.50 415.79 L726.75 415.99 L727.00 416.19 L727.25 416.39 L727.50 416.59 L727.75 416.79 L728.00 416.99 L728.25 417.19 L728.50 417.39 L728.75 417.59 L729.00 417.79 L729.25 417.99 L729.50 418.19 L729.75 418.39 L730.00 418.59 L730.25 418.79 L730.50 418.99 L730.75 419.19 L731.00 419.39" fill="none" stroke="#ff0000" stroke-width="2.30" stroke-linejoin="round"/>
<path d="M734.50 422.20 L734.75 422.40 L735.00 422.60 L735.25 422.80 L735.50 423.00 L735.75 423.20 L736.00 423.40 L736.25 423.60 L736.30 423.64" fill="none" stroke="#ff0000" stroke-width="2.30" stroke-linejoin="round"/>
<path d="M738.60 425.49 L738.75 425.61 L739.00 425.81 L739.25 426.01 L739.50 426.21 L739.75 426.42 L740.00 426.62 L740.25 426.82 L740.50 427.02 L740.75 427.22 L741.00 427.42 L741.25 427.62 L741.50 427.82 L741.75 428.02 L742.00 428.23 L742.25 428.43 L742.50 428.63 L742.75 428.83 L743.00 429.03 L743.25 429.23 L743.50 429.43 L743.75 429.63 L744.00 429.84 L744.25 430.04 L744.50 430.24 L744.75 430.44 L745.00 430.64 L745.25 430.84 L745.50 431.04 L745.75 431.24 L746.00 431.45 L746.25 431.65 L746.50 431.85 L746.75 432.05 L747.00 432.25 L747.25 432.45 L747.50 432.65 L747.75 432.86 L748.00 433.06 L748.25 433.26 L748.50 433.46 L748.75 433.66 L749.00 433.86 L749.25 434.07 L749.50 434.27 L749.75 434.47 L750.00 434.67 L750.25 434.87 L750.50 435.07 L750.75 435.28 L751.00 435.48 L751.25 435.68 L751.50 435.88 L751.75 436.08 L752.00 436.28 L752.25 436.49 L752.50 436.69 L752.75 436.89 L752.80 436.93" fill="none" stroke="#ff0000" stroke-width="2.30" stroke-linejoin="round"/>
<path d="M755.60 439.19 L755.75 439.31 L756.00 439.51 L756.25 439.72 L756.50 439.92 L756.75 440.12 L757.00 440.32 L757.25 440.52 L757.40 440.64" fill="none" stroke="#ff0000" stroke-width="2.30" stroke-linejoin="round"/>
<path d="M760.00 442.75 L760.25 442.95 L760.50 443.15 L760.75 443.35 L761.00 443.56 L761.25 443.76 L761.50 443.96 L761.75 444.16 L762.00 444.36 L762.25 444.57 L762.50 444.77 L762.75 444.97 L763.00 445.17 L763.25 445.38 L763.50 445.58 L763.75 445.78 L764.00 445.98 L764.25 446.19 L764.50 446.39 L764.75 446.59 L765.00 446.79 L765.25 447.00 L765.50 447.20 L765.75 447.40 L766.00 447.60 L766.25 447.81 L766.50 448.01 L766.75 448.21 L767.00 448.41 L767.25 448.62 L767.50 448.82 L767.75 449.02 L768.00 449.22 L768.25 449.43 L768.50 449.63 L768.75 449.83 L769.00 450.03 L769.25 450.24 L769.50 450.44 L769.75 450.64 L770.00 450.84 L770.25 451.05 L770.50 451.25 L770.75 451.45 L771.00 451.66 L771.25 451.86 L771.50 452.06 L771.75 452.26 L771.80 452.30" fill="none" stroke="#ff0000" stroke-width="2.30" stroke-linejoin="round"/>
<path d="M776.20 455.87 L776.25 455.92 L776.50 456.12 L776.75 456.32 L777.00 456.52 L777.25 456.73 L777.50 456.93 L777.75 457.13 L778.00 457.34" fill="none" stroke="#ff0000" stroke-width="2.31" stroke-linejoin="round"/>
<path d="M780.60 459.45 L780.75 459.57 L781.00 459.77 L781.25 459.98 L781.50 460.18 L781.75 460.38 L782.00 460.59 L782.25 460.79 L782.50 460.99 L782.75 461.20 L783.00 461.40 L783.25 461.60 L783.50 461.81 L783.75 462.01 L784.00 462.21 L784.25 462.42 L784.50 462.62 L784.75 462.82 L785.00 463.03 L785.25 463.23 L785.50 463.43 L785.75 463.64 L786.00 463.84 L786.25 464.04 L786.50 464.25 L786.75 464.45 L787.00 464.65 L787.25 464.86 L787.50 465.06 L787.75 465.26 L788.00 465.47 L788.25 465.67 L788.50 465.87 L788.75 466.08 L789.00 466.28 L789.25 466.49 L789.50 466.69 L789.75 466.89 L790.00 467.10" fill="none" stroke="#ff0000" stroke-width="2.31" stroke-linejoin="round"/>
</g>
<path d="M54.18 71.42 L55.59 70.71 L57.71 68.59 L57.71 83.40 M70.39 68.59 L68.28 69.30 L66.87 71.42 L66.16 74.94 L66.16 77.06 L66.87 80.58 L68.28 82.70 L70.39 83.40 L71.80 83.40 L73.92 82.70 L75.33 80.58 L76.03 77.06 L76.03 74.94 L75.33 71.42 L73.92 69.30 L71.80 68.59 L70.39 68.59 M81.67 81.99 L80.97 82.70 L81.67 83.40 L82.38 82.70 L81.67 81.99 M91.54 68.59 L89.43 69.30 L88.02 71.42 L87.31 74.94 L87.31 77.06 L88.02 80.58 L89.43 82.70 L91.54 83.40 L92.95 83.40 L95.07 82.70 L96.48 80.58 L97.18 77.06 L97.18 74.94 L96.48 71.42 L95.07 69.30 L92.95 68.59 L91.54 68.59 M105.64 68.59 L103.53 69.30 L102.12 71.42 L101.41 74.94 L101.41 77.06 L102.12 80.58 L103.53 82.70 L105.64 83.40 L107.05 83.40 L109.17 82.70 L110.58 80.58 L111.28 77.06 L111.28 74.94 L110.58 71.42 L109.17 69.30 L107.05 68.59 L105.64 68.59 M119.74 68.59 L117.63 69.30 L116.22 71.42 L115.51 74.94 L115.51 77.06 L116.22 80.58 L117.63 82.70 L119.74 83.40 L121.15 83.40 L123.27 82.70 L124.68 80.58 L125.38 77.06 L125.38 74.94 L124.68 71.42 L123.27 69.30 L121.15 68.59 L119.74 68.59" fill="none" stroke="#000" stroke-width="1.55" stroke-linecap="round" stroke-linejoin="round"/>
<path d="M68.28 179.42 L69.69 178.71 L71.81 176.59 L71.81 191.40 M81.68 189.99 L80.97 190.69 L81.68 191.40 L82.38 190.69 L81.68 189.99 M91.55 176.59 L89.43 177.30 L88.02 179.42 L87.31 182.94 L87.31 185.06 L88.02 188.58 L89.43 190.69 L91.55 191.40 L92.95 191.40 L95.07 190.69 L96.48 188.58 L97.19 185.06 L97.19 182.94 L96.48 179.42 L95.07 177.30 L92.95 176.59 L91.55 176.59 M105.64 176.59 L103.53 177.30 L102.12 179.42 L101.41 182.94 L101.41 185.06 L102.12 188.58 L103.53 190.69 L105.64 191.40 L107.05 191.40 L109.17 190.69 L110.58 188.58 L111.28 185.06 L111.28 182.94 L110.58 179.42 L109.17 177.30 L107.05 176.59 L105.64 176.59 M119.74 176.59 L117.63 177.30 L116.22 179.42 L115.51 182.94 L115.51 185.06 L116.22 188.58 L117.63 190.69 L119.74 191.40 L121.15 191.40 L123.27 190.69 L124.68 188.58 L125.38 185.06 L125.38 182.94 L124.68 179.42 L123.27 177.30 L121.15 176.59 L119.74 176.59" fill="none" stroke="#000" stroke-width="1.55" stroke-linecap="round" stroke-linejoin="round"/>
<path d="M70.40 284.59 L68.28 285.30 L66.87 287.41 L66.17 290.94 L66.17 293.05 L66.87 296.58 L68.28 298.69 L70.40 299.40 L71.81 299.40 L73.92 298.69 L75.33 296.58 L76.04 293.05 L76.04 290.94 L75.33 287.41 L73.92 285.30 L71.81 284.59 L70.40 284.59 M81.68 297.99 L80.97 298.69 L81.68 299.40 L82.38 298.69 L81.68 297.99 M89.43 287.41 L90.84 286.71 L92.95 284.59 L92.95 299.40 M105.64 284.59 L103.53 285.30 L102.12 287.41 L101.41 290.94 L101.41 293.05 L102.12 296.58 L103.53 298.69 L105.64 299.40 L107.05 299.40 L109.17 298.69 L110.58 296.58 L111.28 293.05 L111.28 290.94 L110.58 287.41 L109.17 285.30 L107.05 284.59 L105.64 284.59 M119.74 284.59 L117.63 285.30 L116.22 287.41 L115.51 290.94 L115.51 293.05 L116.22 296.58 L117.63 298.69 L119.74 299.40 L121.15 299.40 L123.27 298.69 L124.68 296.58 L125.38 293.05 L125.38 290.94 L124.68 287.41 L123.27 285.30 L121.15 284.59 L119.74 284.59" fill="none" stroke="#000" stroke-width="1.55" stroke-linecap="round" stroke-linejoin="round"/>
<path d="M70.40 392.59 L68.28 393.30 L66.87 395.41 L66.17 398.94 L66.17 401.05 L66.87 404.58 L68.28 406.69 L70.40 407.40 L71.81 407.40 L73.92 406.69 L75.33 404.58 L76.04 401.05 L76.04 398.94 L75.33 395.41 L73.92 393.30 L71.81 392.59 L70.40 392.59 M81.68 405.99 L80.97 406.69 L81.68 407.40 L82.38 406.69 L81.68 405.99 M91.55 392.59 L89.43 393.30 L88.02 395.41 L87.31 398.94 L87.31 401.05 L88.02 404.58 L89.43 406.69 L91.55 407.40 L92.95 407.40 L95.07 406.69 L96.48 404.58 L97.19 401.05 L97.19 398.94 L96.48 395.41 L95.07 393.30 L92.95 392.59 L91.55 392.59 M103.53 395.41 L104.94 394.71 L107.05 392.59 L107.05 407.40 M119.74 392.59 L117.63 393.30 L116.22 395.41 L115.51 398.94 L115.51 401.05 L116.22 404.58 L117.63 406.69 L119.74 407.40 L121.15 407.40 L123.27 406.69 L124.68 404.58 L125.38 401.05 L125.38 398.94 L124.68 395.41 L123.27 393.30 L121.15 392.59 L119.74 392.59" fill="none" stroke="#000" stroke-width="1.55" stroke-linecap="round" stroke-linejoin="round"/>
<path d="M70.40 493.19 L68.28 493.90 L66.87 496.01 L66.17 499.54 L66.17 501.65 L66.87 505.18 L68.28 507.30 L70.40 508.00 L71.81 508.00 L73.92 507.30 L75.33 505.18 L76.04 501.65 L76.04 499.54 L75.33 496.01 L73.92 493.90 L71.81 493.19 L70.40 493.19 M81.68 506.59 L80.97 507.30 L81.68 508.00 L82.38 507.30 L81.68 506.59 M91.55 493.19 L89.43 493.90 L88.02 496.01 L87.31 499.54 L87.31 501.65 L88.02 505.18 L89.43 507.30 L91.55 508.00 L92.95 508.00 L95.07 507.30 L96.48 505.18 L97.19 501.65 L97.19 499.54 L96.48 496.01 L95.07 493.90 L92.95 493.19 L91.55 493.19 M105.64 493.19 L103.53 493.90 L102.12 496.01 L101.41 499.54 L101.41 501.65 L102.12 505.18 L103.53 507.30 L105.64 508.00 L107.05 508.00 L109.17 507.30 L110.58 505.18 L111.28 501.65 L111.28 499.54 L110.58 496.01 L109.17 493.90 L107.05 493.19 L105.64 493.19 M117.63 496.01 L119.04 495.31 L121.15 493.19 L121.15 508.00" fill="none" stroke="#000" stroke-width="1.55" stroke-linecap="round" stroke-linejoin="round"/>
<path d="M267.81 527.51 L269.22 526.81 L271.34 524.70 L271.34 539.50" fill="none" stroke="#000" stroke-width="1.55" stroke-linecap="round" stroke-linejoin="round"/>
<path d="M520.35 527.51 L521.76 526.81 L523.87 524.70 L523.87 539.50 M536.56 524.70 L534.45 525.40 L533.04 527.51 L532.33 531.04 L532.33 533.15 L533.04 536.68 L534.45 538.79 L536.56 539.50 L537.97 539.50 L540.09 538.79 L541.50 536.68 L542.20 533.15 L542.20 531.04 L541.50 527.51 L540.09 525.40 L537.97 524.70 L536.56 524.70" fill="none" stroke="#000" stroke-width="1.55" stroke-linecap="round" stroke-linejoin="round"/>
<path d="M772.18 527.51 L773.59 526.81 L775.71 524.70 L775.71 539.50 M788.40 524.70 L786.28 525.40 L784.87 527.51 L784.17 531.04 L784.17 533.15 L784.87 536.68 L786.28 538.79 L788.40 539.50 L789.81 539.50 L791.92 538.79 L793.33 536.68 L794.04 533.15 L794.04 531.04 L793.33 527.51 L791.92 525.40 L789.81 524.70 L788.40 524.70 M802.50 524.70 L800.38 525.40 L798.97 527.51 L798.27 531.04 L798.27 533.15 L798.97 536.68 L800.38 538.79 L802.50 539.50 L803.91 539.50 L806.02 538.79 L807.43 536.68 L808.14 533.15 L808.14 531.04 L807.43 527.51 L806.02 525.40 L803.91 524.70 L802.50 524.70" fill="none" stroke="#000" stroke-width="1.55" stroke-linecap="round" stroke-linejoin="round"/>
<path d="M426.76 557.13 L426.76 567.00 M426.76 559.95 L428.89 557.84 L430.32 557.13 L432.45 557.13 L433.88 557.84 L434.59 559.95 L434.59 567.00 M434.59 559.95 L436.72 557.84 L438.15 557.13 L440.28 557.13 L441.71 557.84 L442.42 559.95 L442.42 567.00 M447.40 552.20 L448.12 552.90 L448.83 552.20 L448.12 551.49 L447.40 552.20 M448.12 557.13 L448.12 567.00 M461.64 559.25 L460.22 557.84 L458.80 557.13 L456.66 557.13 L455.24 557.84 L453.81 559.25 L453.10 561.36 L453.10 562.77 L453.81 564.88 L455.24 566.29 L456.66 567.00 L458.80 567.00 L460.22 566.29 L461.64 564.88 M466.63 557.13 L466.63 567.00 M466.63 561.36 L467.34 559.25 L468.76 557.84 L470.19 557.13 L472.32 557.13 M478.73 557.13 L477.31 557.84 L475.88 559.25 L475.17 561.36 L475.17 562.77 L475.88 564.88 L477.31 566.29 L478.73 567.00 L480.87 567.00 L482.29 566.29 L483.72 564.88 L484.43 562.77 L484.43 561.36 L483.72 559.25 L482.29 557.84 L480.87 557.13 L478.73 557.13 M489.41 557.13 L489.41 567.00 M489.41 559.95 L491.55 557.84 L492.97 557.13 L495.11 557.13 L496.53 557.84 L497.24 559.95 L497.24 567.00" fill="none" stroke="#000" stroke-width="1.55" stroke-linecap="round" stroke-linejoin="round"/>
<path transform="translate(29.80 275.60) rotate(-90)" d="M-45.82 -14.80 L-45.82 0.00 M-45.82 -14.80 L-36.66 -14.80 M-45.82 -7.75 L-40.18 -7.75 M-33.13 -14.80 L-33.13 0.00 M-27.49 -9.87 L-27.49 -2.82 L-26.79 -0.70 L-25.38 0.00 L-23.26 0.00 L-21.85 -0.70 L-19.74 -2.82 M-19.74 -9.87 L-19.74 0.00 M-14.80 -9.87 L-7.05 0.00 M-7.05 -9.87 L-14.80 0.00 M9.17 -17.62 L9.17 4.93 M9.87 -17.62 L9.87 4.93 M9.17 -17.62 L14.10 -17.62 M9.17 4.93 L14.10 4.93 M24.67 -14.80 L24.67 -3.52 L23.97 -1.41 L23.27 -0.70 L21.86 0.00 L20.45 0.00 L19.04 -0.70 L18.33 -1.41 L17.62 -3.52 L17.62 -4.93 M28.90 -9.87 L33.13 0.00 M37.36 -9.87 L33.13 0.00 L31.72 2.82 L30.31 4.23 L28.90 4.93 L28.20 4.93 M45.12 -17.62 L45.12 4.93 M45.82 -17.62 L45.82 4.93 M40.89 -17.62 L45.82 -17.62 M40.89 4.93 L45.82 4.93" fill="none" stroke="#000" stroke-width="1.55" stroke-linecap="round" stroke-linejoin="round"/>
<path d="M578.21 72.26 L578.21 87.90 M584.53 72.26 L584.53 87.90 M603.49 72.26 L603.49 87.90 M603.49 72.26 L610.60 72.26 L612.97 73.00 L613.76 73.75 L614.55 75.24 L614.55 77.47 L613.76 78.96 L612.97 79.71 L610.60 80.45 L603.49 80.45 M619.29 81.94 L628.77 81.94 L628.77 80.45 L627.98 78.96 L627.19 78.22 L625.61 77.47 L623.24 77.47 L621.66 78.22 L620.08 79.71 L619.29 81.94 L619.29 83.43 L620.08 85.67 L621.66 87.16 L623.24 87.90 L625.61 87.90 L627.19 87.16 L628.77 85.67 M642.99 77.47 L642.99 90.88 L642.20 93.12 L641.41 93.86 L639.83 94.61 L637.46 94.61 L635.88 93.86 M642.99 79.71 L641.41 78.22 L639.83 77.47 L637.46 77.47 L635.88 78.22 L634.30 79.71 L633.51 81.94 L633.51 83.43 L634.30 85.67 L635.88 87.16 L637.46 87.90 L639.83 87.90 L641.41 87.16 L642.99 85.67" fill="none" stroke="#000" stroke-width="1.55" stroke-linecap="round" stroke-linejoin="round"/>
<path d="M354.34 286.19 L354.34 301.00 M350.04 286.19 L358.64 286.19" fill="none" stroke="#000" stroke-width="1.55" stroke-linecap="round" stroke-linejoin="round"/>
<path d="M361.45 297.82 L361.45 307.00 M361.45 302.19 L362.32 301.32 L363.20 300.88 L364.51 300.88 L365.38 301.32 L366.26 302.19 L366.69 303.50 L366.69 304.38 L366.26 305.69 L365.38 306.56 L364.51 307.00 L363.20 307.00 L362.32 306.56 L361.45 305.69 M369.75 297.82 L369.75 307.00 M369.75 302.19 L370.63 301.32 L371.50 300.88 L372.81 300.88 L373.69 301.32 L374.56 302.19 L375.00 303.50 L375.00 304.38 L374.56 305.69 L373.69 306.56 L372.81 307.00 L371.50 307.00 L370.63 306.56 L369.75 305.69" fill="none" stroke="#000" stroke-width="1.55" stroke-linecap="round" stroke-linejoin="round"/>
<path d="M390.84 292.96 L402.69 292.96 M390.84 297.48 L402.69 297.48" fill="none" stroke="#000" stroke-width="1.55" stroke-linecap="round" stroke-linejoin="round"/>
<path d="M421.93 289.01 L423.34 288.31 L425.45 286.19 L425.45 301.00 M443.79 286.19 L436.74 301.00 M433.92 286.19 L443.79 286.19 M452.25 286.19 L450.13 286.90 L448.72 289.01 L448.02 292.54 L448.02 294.65 L448.72 298.18 L450.13 300.30 L452.25 301.00 L453.66 301.00 L455.77 300.30 L457.18 298.18 L457.89 294.65 L457.89 292.54 L457.18 289.01 L455.77 286.90 L453.66 286.19 L452.25 286.19 M466.35 286.19 L464.23 286.90 L462.82 289.01 L462.12 292.54 L462.12 294.65 L462.82 298.18 L464.23 300.30 L466.35 301.00 L467.76 301.00 L469.87 300.30 L471.28 298.18 L471.99 294.65 L471.99 292.54 L471.28 289.01 L469.87 286.90 L467.76 286.19 L466.35 286.19 M476.92 286.19 L476.92 301.00 M486.79 286.19 L476.92 296.06 M480.45 292.54 L486.79 301.00" fill="none" stroke="#000" stroke-width="1.55" stroke-linecap="round" stroke-linejoin="round"/>
<path d="M179.22 477.30 L179.22 487.80 M179.22 477.30 L184.20 477.30 L185.86 477.80 L186.42 478.30 L186.97 479.30 L186.97 480.30 L186.42 481.30 L185.86 481.80 L184.20 482.30 M179.22 482.30 L184.20 482.30 L185.86 482.80 L186.42 483.30 L186.97 484.30 L186.97 485.80 L186.42 486.80 L185.86 487.30 L184.20 487.80 L179.22 487.80" fill="none" stroke="#000" stroke-width="1.45" stroke-linecap="round" stroke-linejoin="round"/>
<path d="M203.00 477.30 L207.44 487.80 M211.87 477.30 L207.44 487.80" fill="none" stroke="#000" stroke-width="1.45" stroke-linecap="round" stroke-linejoin="round"/>
<path d="M222.12 477.30 L222.12 487.80 M222.12 477.30 L227.10 477.30 L228.76 477.80 L229.32 478.30 L229.87 479.30 L229.87 480.30 L229.32 481.30 L228.76 481.80 L227.10 482.30 L222.12 482.30 M225.99 482.30 L229.87 487.80" fill="none" stroke="#000" stroke-width="1.45" stroke-linecap="round" stroke-linejoin="round"/>
<path d="M245.52 477.30 L245.52 487.80" fill="none" stroke="#000" stroke-width="1.45" stroke-linecap="round" stroke-linejoin="round"/>
<path d="M325.92 477.30 L325.92 487.80 M333.67 477.30 L333.67 487.80 M325.92 482.30 L333.67 482.30" fill="none" stroke="#000" stroke-width="1.45" stroke-linecap="round" stroke-linejoin="round"/>
<path d="M353.82 477.30 L353.82 487.80 M361.57 477.30 L353.82 484.30 M356.59 481.80 L361.57 487.80" fill="none" stroke="#000" stroke-width="1.45" stroke-linecap="round" stroke-linejoin="round"/>
<path d="M403.12 477.30 L403.12 487.80 M408.66 479.30 L409.76 478.80 L411.43 477.30 L411.43 487.80" fill="none" stroke="#000" stroke-width="1.45" stroke-linecap="round" stroke-linejoin="round"/>
<path d="M430.92 477.30 L430.92 487.80 M435.35 479.80 L435.35 479.30 L435.90 478.30 L436.46 477.80 L437.56 477.30 L439.78 477.30 L440.89 477.80 L441.44 478.30 L442.00 479.30 L442.00 480.30 L441.44 481.30 L440.33 482.80 L434.79 487.80 L442.55 487.80" fill="none" stroke="#000" stroke-width="1.45" stroke-linecap="round" stroke-linejoin="round"/>
<path d="M461.62 477.30 L461.62 487.80 M466.60 477.30 L472.70 477.30 L469.37 481.30 L471.03 481.30 L472.14 481.80 L472.70 482.30 L473.25 483.80 L473.25 484.80 L472.70 486.30 L471.59 487.30 L469.93 487.80 L468.26 487.80 L466.60 487.30 L466.05 486.80 L465.49 485.80" fill="none" stroke="#000" stroke-width="1.45" stroke-linecap="round" stroke-linejoin="round"/>
<path d="M499.62 477.30 L499.62 487.80 M509.03 477.30 L503.49 484.30 L511.80 484.30 M509.03 477.30 L509.03 487.80" fill="none" stroke="#000" stroke-width="1.45" stroke-linecap="round" stroke-linejoin="round"/>
<path d="M617.62 477.30 L617.62 487.80 M617.62 477.30 L622.05 487.80 M626.48 477.30 L622.05 487.80 M626.48 477.30 L626.48 487.80 M630.91 479.80 L630.91 479.30 L631.47 478.30 L632.02 477.80 L633.13 477.30 L635.34 477.30 L636.45 477.80 L637.01 478.30 L637.56 479.30 L637.56 480.30 L637.01 481.30 L635.90 482.80 L630.36 487.80 L638.11 487.80 M646.98 477.30 L641.44 484.30 L649.75 484.30 M646.98 477.30 L646.98 487.80" fill="none" stroke="#000" stroke-width="1.45" stroke-linecap="round" stroke-linejoin="round"/>
<path d="M740.02 477.30 L740.02 487.80 M740.02 477.30 L744.45 487.80 M748.88 477.30 L744.45 487.80 M748.88 477.30 L748.88 487.80 M760.51 477.30 L754.97 487.80 M752.76 477.30 L760.51 477.30 M767.16 477.30 L765.50 477.80 L764.39 479.30 L763.84 481.80 L763.84 483.30 L764.39 485.80 L765.50 487.30 L767.16 487.80 L768.27 487.80 L769.93 487.30 L771.04 485.80 L771.59 483.30 L771.59 481.80 L771.04 479.30 L769.93 477.80 L768.27 477.30 L767.16 477.30" fill="none" stroke="#000" stroke-width="1.45" stroke-linecap="round" stroke-linejoin="round"/>
</svg>
</body></html>
